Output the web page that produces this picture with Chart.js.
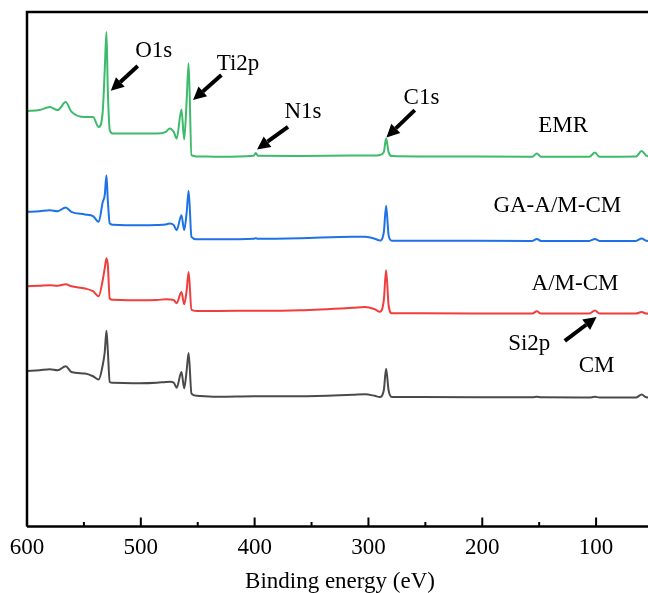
<!DOCTYPE html>
<html>
<head>
<meta charset="utf-8">
<script src="https://cdn.jsdelivr.net/npm/chart.js@4.4.0/dist/chart.umd.min.js"></script>
<style>
  html, body { margin: 0; padding: 0; background: #fff; overflow: hidden; width: 648px; height: 593px; }
  #wrap { position: absolute; left: 0; top: 0; width: 660px; height: 593px; }
</style>
</head>
<body>
<div id="wrap"><canvas id="c"></canvas></div>
<script>
// Binding energy (eV) sample points shared by all spectra
const energy = [600, 589, 580, 573, 566, 561, 549, 542, 537, 533.5, 531.7, 530.2, 529, 527.3, 524.7,
  501, 486, 478, 474.5, 471, 468.5, 464.3, 461.9, 459.7, 458, 455.5, 451, 431,
  401, 399, 397, 360, 314, 303, 294.5, 290, 286.5, 284.5, 282.3, 279.5, 255,
  156, 152, 148.5, 106, 101, 97, 65, 60, 56, 50];

// Intensities (arbitrary units, stacked with offsets as in the figure)
const emr = [415, 416, 419, 416, 424, 414.5, 409, 409, 399, 414, 456, 494, 436, 396, 392.7,
  392.7, 392.5, 394.3, 397.7, 394, 387.5, 416.7, 386.7, 426, 462.7, 371, 369.7, 369.3,
  370.3, 373, 370.3, 370.2, 370.5, 370.7, 370.5, 371.2, 374, 387.5, 374, 370, 369.7,
  369.3, 372.7, 369.3, 369.3, 373.5, 369.3, 369.5, 375, 370.5, 369];

const gaAmCm = [314.3, 315, 316, 315, 318.7, 314.3, 311.7, 310, 304.3, 324, 331, 351, 326, 302.7, 301.5,
  301, 301.2, 301.7, 302.7, 301, 296, 311, 296, 314, 335.5, 289.3, 287, 287,
  287.5, 288, 287.5, 288, 289.3, 289.3, 287.5, 285.7, 294, 320.5, 291, 285.5, 285.5,
  285.3, 287.3, 285.3, 285.3, 287.3, 285.3, 285.3, 287.7, 285.5, 285];

const amCm = [240, 240.5, 241, 240.5, 242, 240, 237.7, 235, 230, 246, 258, 268, 261, 227.7, 226.5,
  226, 226.2, 227, 226.7, 226, 223, 234.3, 222, 236, 254.3, 216.5, 215.3, 215.3,
  215.5, 215.5, 215.5, 216, 218.5, 219.3, 217, 214.5, 226, 256, 221, 213, 213,
  212.7, 215, 212.7, 212.7, 215.7, 212.7, 212.7, 214.3, 212.7, 212.5];

const cm = [155.3, 156, 157, 156, 160, 154.3, 152.7, 150, 146.7, 161, 174, 195.5, 176, 144.3, 143.5,
  143, 143.5, 144.3, 144.5, 143.5, 138.5, 154.3, 138, 156, 173.3, 132.7, 130.5, 129.5,
  130, 130, 130, 130, 131.5, 132, 130.5, 129.3, 136, 157.5, 136, 129.3, 129.3,
  129, 129.5, 129, 128.8, 129.5, 128.8, 128.7, 131.7, 129, 128.5];

const seriesNames = ['EMR', 'GA-A/M-CM', 'A/M-CM', 'CM'];
const seriesColors = ['#3dba6b', '#1f72e6', '#f23d3d', '#4a4a4a'];
const seriesValues = [emr, gaAmCm, amCm, cm];

const xTicks = [600, 500, 400, 300, 200, 100];
const xMinor = [550, 450, 350, 250, 150];

// Text labels [text, eV, intensity] (alphabetic baseline)
const labels = [
  ['O1s', 488.7, 469], ['Ti2p', 414.6, 456], ['N1s', 357.5, 407.7], ['C1s', 253.4, 422],
  ['EMR', 129.0, 394.3], ['GA-A/M-CM', 134.1, 314.3], ['A/M-CM', 118.5, 236.7],
  ['Si2p', 158.7, 176.5], ['CM', 99.6, 154.3]
];
// Arrows [fromEV, fromI, toEV, toI]
const arrows = [
  [502.7, 460, 526.4, 435.3],
  [429.2, 451, 454.1, 426],
  [370.7, 399.3, 397.9, 376.7],
  [259.3, 416, 284.2, 388.7],
  [127.5, 185.3, 99.6, 209.3]
];

const FONT = '"Liberation Serif", "Times New Roman", serif';

const framePlugin = {
  id: 'frame',
  afterDraw(chart) {
    const { ctx, chartArea: a, scales } = chart;
    const xs = scales.x, ys = scales.y;
    ctx.save();
    ctx.strokeStyle = '#000';
    ctx.lineWidth = 2.5;
    ctx.beginPath();
    ctx.moveTo(a.left, a.bottom); ctx.lineTo(a.left, a.top);
    ctx.lineTo(a.right, a.top); ctx.lineTo(a.right, a.bottom);
    ctx.lineTo(a.left, a.bottom);
    ctx.stroke();
    ctx.lineWidth = 2;
    ctx.beginPath();
    xTicks.forEach(v => { const px = xs.getPixelForValue(v); ctx.moveTo(px, a.bottom); ctx.lineTo(px, a.bottom - 9); });
    xMinor.forEach(v => { const px = xs.getPixelForValue(v); ctx.moveTo(px, a.bottom); ctx.lineTo(px, a.bottom - 4.5); });
    ctx.stroke();
    ctx.fillStyle = '#000';
    ctx.font = '23px ' + FONT;
    ctx.textAlign = 'center';
    ctx.textBaseline = 'alphabetic';
    labels.forEach(([t, e, i]) => ctx.fillText(t, xs.getPixelForValue(e), ys.getPixelForValue(i)));
    arrows.forEach(([e0, i0, e1, i1]) => {
      const x0 = xs.getPixelForValue(e0), y0 = ys.getPixelForValue(i0);
      const x1 = xs.getPixelForValue(e1), y1 = ys.getPixelForValue(i1);
      const ang = Math.atan2(y1 - y0, x1 - x0);
      const hl = 13, hw = 6.5;
      const bx = x1 - hl * Math.cos(ang), by = y1 - hl * Math.sin(ang);
      ctx.lineWidth = 4;
      ctx.lineCap = 'butt';
      ctx.beginPath(); ctx.moveTo(x0, y0); ctx.lineTo(bx, by); ctx.stroke();
      ctx.beginPath();
      ctx.moveTo(x1, y1);
      ctx.lineTo(bx + hw * Math.sin(ang), by - hw * Math.cos(ang));
      ctx.lineTo(bx - hw * Math.sin(ang), by + hw * Math.cos(ang));
      ctx.closePath(); ctx.fill();
    });
    ctx.restore();
  }
};

new Chart(document.getElementById('c'), {
  type: 'line',
  data: {
    datasets: seriesNames.map((n, k) => ({
      label: n,
      data: energy.map((e, j) => ({ x: e, y: seriesValues[k][j] })),
      borderColor: seriesColors[k],
      backgroundColor: seriesColors[k],
      borderWidth: 2,
      pointRadius: 0,
      cubicInterpolationMode: 'monotone',
      fill: false
    }))
  },
  options: {
    animation: false,
    responsive: true,
    maintainAspectRatio: false,
    layout: { padding: { left: 27, right: 7, top: 12, bottom: 0 } },
    plugins: { legend: { display: false }, tooltip: { enabled: false } },
    scales: {
      x: {
        type: 'linear', reverse: true, min: 50, max: 600,
        grid: { display: false, drawTicks: false },
        border: { display: false },
        ticks: {
          stepSize: 100, includeBounds: false, autoSkip: false, maxRotation: 0,
          padding: 8, color: '#000', font: { family: FONT, size: 23 },
          callback: v => (xTicks.includes(v) ? String(v) : '')
        },
        title: { display: true, text: 'Binding energy (eV)', color: '#000',
          font: { family: FONT, size: 23, lineHeight: 1.0 }, padding: { top: 0, bottom: 0 } }
      },
      y: { display: false, min: 0, max: 514 }
    }
  },
  plugins: [framePlugin]
});
</script>
</body>
</html>
